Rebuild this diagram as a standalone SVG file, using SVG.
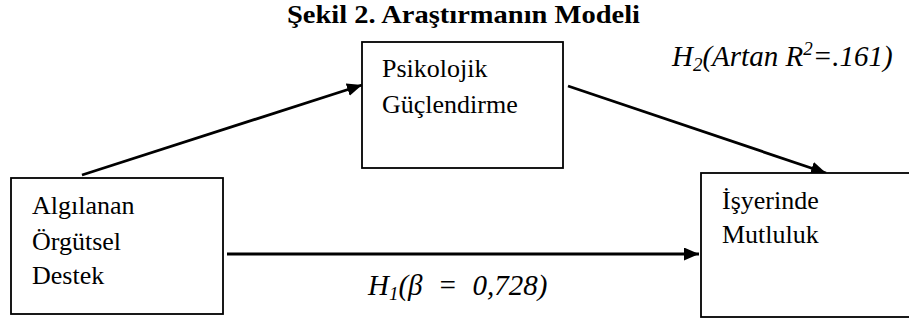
<svg xmlns="http://www.w3.org/2000/svg" width="909" height="327" viewBox="0 0 909 327">
<style>
.box{fill:#fff;stroke:#000;stroke-width:1.8}
.t{font-family:"Liberation Serif","Times New Roman",serif;font-size:26px;fill:#000}
.lbl{font-family:"Liberation Serif","Times New Roman",serif;font-size:29px;font-style:italic;fill:#000}
.title{font-family:"Liberation Serif","Times New Roman",serif;font-size:26px;font-weight:bold;fill:#000}
.arr{stroke:#000;stroke-width:2.8;fill:none;marker-end:url(#ah)}
</style>
<defs>
<marker id="ah" markerUnits="userSpaceOnUse" markerWidth="17" markerHeight="14" refX="15" refY="6.5" orient="auto">
<path d="M0,0 L15,6.5 L0,13 Z" fill="#000"/>
</marker>
</defs>
<rect width="909" height="327" fill="#fff"/>
<text class="title" x="287" y="23" textLength="353" lengthAdjust="spacingAndGlyphs">Şekil 2. Araştırmanın Modeli</text>
<g id="connectors">
<line class="arr" x1="82" y1="175" x2="362" y2="85"/>
<line class="arr" x1="568" y1="86" x2="826" y2="173"/>
<line class="arr" x1="227" y1="254" x2="699" y2="254"/>
</g>
<g id="node-algilanan">
<rect class="box" x="11" y="178" width="212" height="136"/>
<text class="t" x="32" y="214">Algılanan</text>
<text class="t" x="32" y="250">Örgütsel</text>
<text class="t" x="32" y="284">Destek</text>
</g>
<g id="node-psikolojik">
<rect class="box" x="362" y="42" width="201" height="126"/>
<text class="t" x="382" y="77">Psikolojik</text>
<text class="t" x="382" y="113">Güçlendirme</text>
</g>
<g id="node-isyerinde">
<rect class="box" x="701" y="173" width="215" height="144"/>
<text class="t" x="722" y="209">İşyerinde</text>
<text class="t" x="722" y="243">Mutluluk</text>
</g>
<g id="labels">
<text class="lbl" x="672" y="66">H<tspan font-size="19" dy="5">2</tspan><tspan dy="-5">(Artan R</tspan><tspan font-size="19" dy="-11">2</tspan><tspan dy="11">=.161)</tspan></text>
<text class="lbl" x="368" y="295" word-spacing="8">H<tspan font-size="19" dy="5">1</tspan><tspan dy="-5">(β = 0,728)</tspan></text>
</g>
</svg>
